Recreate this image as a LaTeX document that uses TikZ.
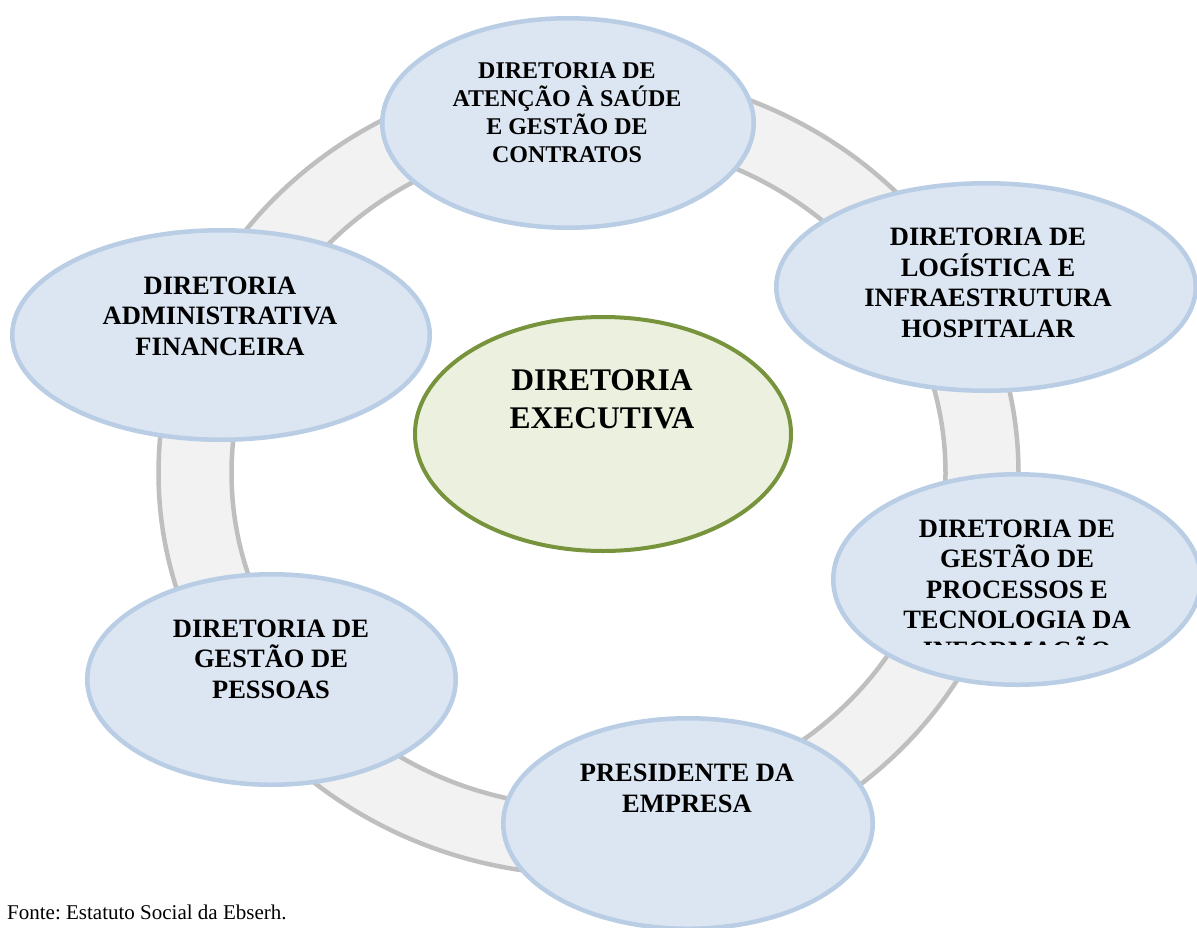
\documentclass[tikz,border=0pt]{standalone}
\usepackage{fontspec}
\setmainfont{Liberation Serif}
\usetikzlibrary{shapes.geometric}
\definecolor{ringfill}{HTML}{F2F2F2}
\definecolor{ringline}{HTML}{BFBFBF}
\definecolor{satfill}{HTML}{DCE6F2}
\definecolor{satline}{HTML}{B9CDE5}
\definecolor{ctrfill}{HTML}{EBF1DE}
\definecolor{ctrline}{HTML}{77933C}
\frenchspacing
\begin{document}
\begin{tikzpicture}[x=1pt,y=-1pt,
  sat/.style={ellipse, draw=satline, fill=satfill, line width=4.5pt, inner sep=0pt, outer sep=0pt},
  ctr/.style={ellipse, draw=ctrline, fill=ctrfill, line width=4pt, inner sep=0pt, outer sep=0pt},
  ringband/.style={fill=ringfill, even odd rule},
  ringedge/.style={draw=ringline, line width=4.5pt},
  lbl/.style={font=\bfseries\fontsize{26.5}{30.5}\selectfont, align=center, anchor=base, inner sep=0pt, text=black}]
\useasboundingbox (0,0) rectangle (1197,927);
\fill[white] (0,0) rectangle (1197,927);
\coordinate (rc) at (588.5,473);
% ring
\path[ringband] (rc) ellipse [x radius=430, y radius=402] (rc) ellipse [x radius=357, y radius=334];
\path[ringedge] (rc) ellipse [x radius=430, y radius=402];
\path[ringedge] (rc) ellipse [x radius=357, y radius=334];
% ellipses
\node[sat, minimum width=371.5pt, minimum height=209.5pt] (top) at (568,123) {};
\node[sat, minimum width=419.5pt, minimum height=207.5pt] (rup) at (986,287) {};
\node[sat, minimum width=417.5pt, minimum height=209.5pt] (left) at (221,335) {};
\node[ctr, minimum width=376pt, minimum height=234pt] (ctr) at (603,434) {};
\node[sat, minimum width=367.5pt, minimum height=210.5pt] (rlo) at (1017,579.5) {};
\node[sat, minimum width=368.5pt, minimum height=210.5pt] (llo) at (271.5,679.5) {};
\node[sat, minimum width=369.5pt, minimum height=210.5pt] (bot) at (688,823.5) {};
% texts (anchor base = baseline of last line)
\node[lbl, font=\bfseries\fontsize{24}{28}\selectfont] (ttop) at (567,162) {DIRETORIA DE\\ATENÇÃO À SAÚDE\\E GESTÃO DE\\CONTRATOS};
\node[lbl] (trup) at (988,337) {DIRETORIA DE\\LOGÍSTICA E\\INFRAESTRUTURA\\HOSPITALAR};
\node[lbl] (tleft) at (220,355) {DIRETORIA\\ADMINISTRATIVA\\FINANCEIRA};
\node[lbl, font=\bfseries\fontsize{31.5}{38}\selectfont] (tctr) at (602,428) {DIRETORIA\\EXECUTIVA};
\begin{scope}
\clip (831,470) rectangle (1197,644);
\node[lbl] (trlo) at (1017,659) {DIRETORIA DE\\GESTÃO DE\\PROCESSOS E\\TECNOLOGIA DA\\INFORMAÇÃO};
\end{scope}
\node[lbl] (tllo) at (271,698) {DIRETORIA DE\\GESTÃO DE\\PESSOAS};
\node[lbl] (tbot) at (687,812) {PRESIDENTE DA\\EMPRESA};
\node[anchor=base west, inner sep=0pt, font=\fontsize{21}{25}\selectfont] (fonte) at (7,919) {Fonte: Estatuto Social da Ebserh.};
\end{tikzpicture}
\end{document}
